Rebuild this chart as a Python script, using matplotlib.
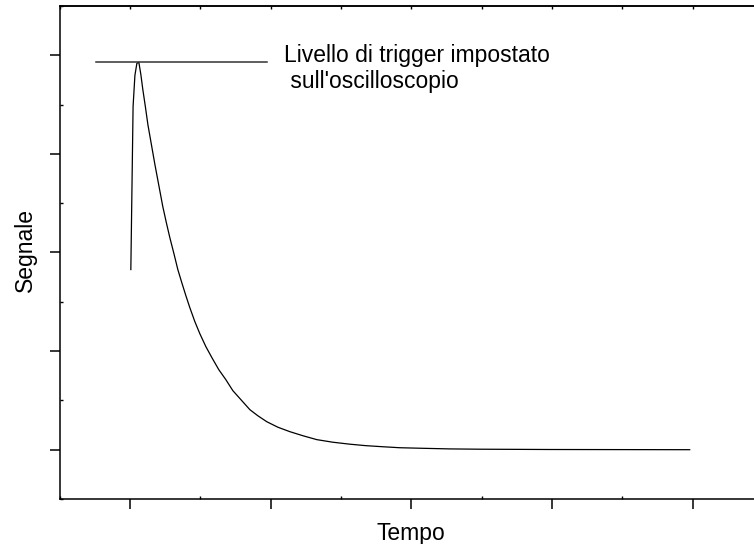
import numpy as np
import matplotlib
matplotlib.use('Agg')
import matplotlib.pyplot as plt
from matplotlib.ticker import MultipleLocator, NullFormatter

plt.rcParams['font.family'] = ['Liberation Sans', 'DejaVu Sans']

# signal pulse (arbitrary units)
tempo = [0.007, 0.023, 0.036, 0.050, 0.064, 0.078, 0.092, 0.110, 0.128, 0.153,
         0.178, 0.206, 0.234, 0.259, 0.284, 0.313, 0.341, 0.369, 0.398, 0.426,
         0.462, 0.497, 0.540, 0.583, 0.632, 0.682, 0.732, 0.789, 0.853, 0.909,
         0.973, 1.052, 1.137, 1.229, 1.329, 1.442, 1.563, 1.677, 1.798, 1.918,
         2.060, 2.274, 2.487, 2.984, 3.481, 3.979]
segnale = [1.827, 3.482, 3.797, 3.919, 3.929, 3.807, 3.655, 3.482, 3.299, 3.096,
           2.893, 2.680, 2.467, 2.305, 2.152, 1.990, 1.827, 1.695, 1.563, 1.442,
           1.299, 1.178, 1.046, 0.934, 0.812, 0.711, 0.599, 0.508, 0.406, 0.345,
           0.284, 0.228, 0.183, 0.142, 0.102, 0.076, 0.056, 0.041, 0.030, 0.020,
           0.015, 0.008, 0.005, 0.002, 0.001, 0.000]

# trigger level line
trig_x = [-0.24, 0.973]
trig_y = [3.93, 3.93]
trig_text = ["Livello di trigger impostato", " sull'oscilloscopio"]

fig = plt.figure(figsize=(7.54, 5.44), dpi=100)
ax = fig.add_axes([59.5/754, 45/544, (763-59.5)/754, 493/544])

ax.plot(tempo, segnale, color='black', lw=0.9)
ax.plot(trig_x, trig_y, color='#333333', lw=1.1)

ax.text(1.094, 3.93, trig_text[0], fontsize=16.5, va='baseline', ha='left')
ax.text(1.094, 3.665, trig_text[1], fontsize=16.5, va='baseline', ha='left')

ax.set_xlim(-0.5, 4.5)
ax.set_ylim(-0.5, 4.5)

ax.xaxis.set_major_locator(MultipleLocator(1))
ax.xaxis.set_minor_locator(MultipleLocator(0.5))
ax.yaxis.set_major_locator(MultipleLocator(1))
ax.yaxis.set_minor_locator(MultipleLocator(0.5))
ax.xaxis.set_major_formatter(NullFormatter())
ax.yaxis.set_major_formatter(NullFormatter())

ax.tick_params(which='major', direction='out', length=7.5, width=1.1)
ax.tick_params(which='minor', direction='in', length=2.2, width=1.0)

for s in ax.spines.values():
    s.set_linewidth(1.1)

top = ax.secondary_xaxis('top')
top.xaxis.set_major_locator(MultipleLocator(0.5))
top.xaxis.set_major_formatter(NullFormatter())
top.tick_params(direction='in', length=2.2, width=1.0)
top.spines['top'].set_linewidth(1.1)

ax.set_xlabel('Tempo', fontsize=16.5)
ax.set_ylabel('Segnale', fontsize=16.5)
ax.xaxis.set_label_coords(0.5, -0.046)
ax.yaxis.set_label_coords(-0.032, 0.505)

fig.savefig('out.png', dpi=100)
